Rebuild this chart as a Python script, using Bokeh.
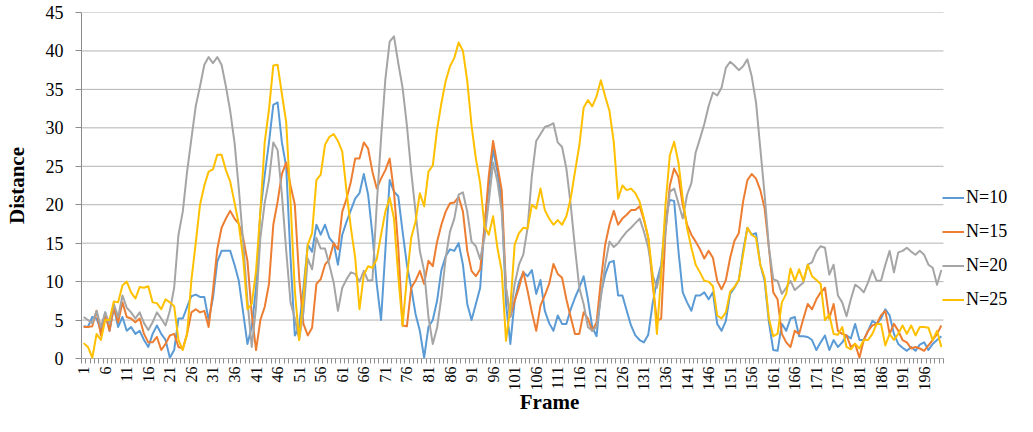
import math
from bokeh.plotting import figure
from bokeh.models import FixedTicker, Legend, LegendItem, Range1d
from bokeh.embed import file_html
from bokeh.resources import INLINE

frames = list(range(1, 201))

n10 = [4.2, 4.1, 5.4, 5.2, 3.6, 6.0, 3.6, 6.7, 4.1, 5.4,
       3.6, 4.1, 3.2, 3.6, 2.4, 1.5, 3.2, 4.3, 3.2, 2.4,
       0.1, 1.1, 5.2, 5.2, 6.7, 8.1, 8.3, 8.0, 8.0, 5.0,
       7.9, 12.6, 14.0, 14.0, 14.0, 12.2, 10.1, 6.0, 1.9, 4.1,
       9.2, 19.1, 23.8, 28.1, 33.0, 33.3, 28.1, 24.9, 13.1, 3.0,
       4.1, 9.2, 14.8, 13.9, 17.4, 16.1, 17.4, 15.7, 15.0, 12.2,
       16.1, 17.8, 19.3, 20.8, 21.5, 24.0, 21.3, 16.1, 9.7, 5.0,
       14.0, 23.2, 21.7, 21.1, 16.5, 12.2, 9.2, 5.8, 3.6, 0.1,
       4.1, 5.0, 7.5, 11.5, 13.3, 14.2, 14.0, 15.0, 12.2, 7.1,
       5.0, 7.1, 9.2, 17.4, 22.5, 27.2, 24.3, 20.4, 7.1, 1.9,
       7.5, 9.9, 11.2, 10.7, 11.5, 8.4, 10.2, 6.2, 4.6, 3.6,
       5.6, 4.5, 4.5, 6.4, 7.9, 9.2, 10.7, 7.7, 4.1, 2.9,
       8.4, 10.9, 12.5, 12.7, 8.2, 8.2, 6.2, 4.3, 3.0, 2.4,
       2.1, 3.1, 7.1, 10.1, 12.2, 18.2, 20.6, 20.5, 14.0, 8.6,
       7.3, 6.2, 8.2, 8.2, 8.6, 7.7, 8.6, 4.5, 3.6, 4.9,
       8.4, 9.2, 10.2, 14.0, 17.0, 16.1, 16.3, 12.2, 10.1, 4.7,
       1.1, 1.0, 4.5, 3.6, 5.2, 5.4, 2.9, 2.9, 2.8, 2.4,
       1.1, 2.1, 3.0, 1.1, 2.4, 1.5, 2.1, 3.0, 2.6, 4.5,
       2.4, 2.4, 3.6, 4.9, 4.5, 5.2, 6.4, 5.6, 3.2, 1.9,
       1.4, 1.0, 1.5, 1.0, 1.8, 2.1, 1.1, 1.9, 2.4, 2.9]

n15 = [4.1, 4.1, 4.2, 6.2, 3.0, 5.8, 3.6, 6.7, 4.7, 7.3,
       5.4, 5.2, 4.7, 5.2, 3.2, 2.1, 2.1, 2.8, 1.1, 1.9,
       3.0, 3.2, 1.5, 1.3, 3.2, 6.0, 6.4, 6.0, 6.2, 4.1,
       8.8, 14.2, 17.0, 18.2, 19.2, 18.2, 17.5, 15.7, 12.7, 5.8,
       1.1, 5.0, 6.7, 9.7, 17.4, 20.4, 24.0, 25.5, 22.5, 20.0,
       10.5, 4.5, 3.0, 4.0, 9.7, 10.3, 12.2, 12.9, 15.0, 14.2,
       19.1, 20.8, 23.0, 26.0, 26.0, 28.1, 27.3, 24.3, 22.1, 23.4,
       24.5, 26.0, 21.7, 14.4, 4.3, 4.2, 9.2, 10.1, 11.4, 9.7,
       12.7, 12.0, 15.2, 17.4, 19.1, 20.2, 20.3, 21.0, 19.1, 14.0,
       11.4, 10.7, 11.6, 17.0, 23.8, 28.3, 25.1, 21.9, 9.0, 5.4,
       7.5, 9.2, 11.3, 8.8, 6.0, 3.6, 6.9, 8.2, 9.7, 12.3,
       11.0, 10.5, 7.7, 5.4, 3.2, 3.2, 6.0, 5.2, 3.6, 4.7,
       10.1, 14.8, 17.4, 19.2, 17.4, 18.2, 18.7, 19.3, 19.3, 19.8,
       18.0, 15.7, 9.7, 4.9, 5.2, 16.5, 22.5, 24.7, 23.6, 20.0,
       17.4, 16.1, 15.2, 14.2, 13.0, 14.0, 13.1, 10.1, 9.0, 10.2,
       13.1, 15.3, 16.3, 20.4, 23.2, 24.0, 23.4, 21.9, 19.5, 14.4,
       8.6, 7.7, 3.2, 2.1, 1.5, 3.6, 3.2, 5.2, 7.1, 6.4,
       7.7, 8.6, 9.2, 5.2, 7.1, 3.6, 3.2, 3.0, 1.5, 1.9,
       0.1, 2.4, 3.6, 4.3, 4.5, 5.6, 6.2, 3.2, 4.5, 3.6,
       2.4, 2.1, 1.3, 1.5, 1.3, 1.0, 1.7, 2.4, 3.2, 4.3]

n20 = [5.4, 5.0, 4.6, 6.2, 4.1, 6.0, 4.5, 7.1, 5.4, 8.2,
       6.6, 6.0, 5.2, 6.0, 4.6, 3.7, 4.7, 6.0, 5.2, 4.3,
       6.2, 9.2, 16.1, 19.1, 24.3, 28.6, 32.8, 35.4, 38.2, 39.2,
       38.4, 39.2, 38.2, 35.4, 32.2, 28.1, 22.1, 15.2, 7.5, 1.5,
       6.7, 15.7, 20.2, 23.2, 28.1, 27.1, 21.3, 14.0, 7.3, 5.2,
       2.5, 6.0, 13.0, 11.6, 15.7, 14.3, 14.3, 12.2, 9.9, 6.2,
       9.2, 10.3, 11.2, 11.0, 10.0, 11.4, 10.1, 10.2, 20.0, 28.6,
       36.3, 41.2, 41.9, 38.4, 35.2, 30.3, 24.3, 19.1, 14.0, 11.4,
       5.4, 1.9, 4.0, 8.0, 13.1, 16.5, 18.2, 21.3, 21.6, 19.1,
       15.2, 14.6, 12.9, 15.7, 20.4, 25.5, 23.0, 19.1, 9.2, 5.4,
       9.7, 12.2, 13.5, 17.0, 23.8, 28.3, 29.2, 30.1, 30.3, 30.6,
       28.1, 27.5, 24.7, 20.0, 14.4, 9.2, 7.1, 4.1, 3.6, 4.1,
       7.9, 12.2, 15.2, 14.5, 15.0, 15.8, 16.5, 17.0, 17.6, 18.2,
       16.5, 14.4, 10.9, 9.2, 11.8, 16.5, 21.7, 22.1, 20.2, 18.2,
       21.3, 22.8, 26.8, 28.6, 30.5, 32.8, 34.6, 34.2, 35.2, 37.8,
       38.6, 38.1, 37.5, 38.0, 38.9, 36.7, 33.3, 27.3, 21.3, 14.4,
       10.3, 10.1, 8.4, 9.2, 10.1, 8.9, 9.4, 9.9, 12.2, 12.5,
       13.9, 14.6, 14.4, 10.9, 12.2, 8.2, 7.3, 5.5, 7.7, 9.6,
       9.2, 8.6, 9.9, 11.5, 10.1, 10.1, 12.2, 14.0, 11.2, 13.8,
       14.0, 14.4, 13.9, 13.5, 14.0, 13.5, 12.2, 11.8, 9.6, 11.5]

n25 = [2.0, 1.5, 0.1, 3.2, 2.4, 5.0, 5.0, 7.4, 7.3, 9.5,
       10.0, 8.6, 7.8, 9.3, 9.2, 9.4, 7.3, 7.2, 6.4, 7.7,
       7.3, 6.8, 2.4, 1.1, 3.2, 10.2, 15.0, 20.0, 22.5, 24.3,
       24.6, 26.5, 26.5, 24.5, 23.0, 20.3, 17.4, 13.1, 6.4, 7.1,
       11.4, 19.1, 28.1, 32.4, 38.1, 38.2, 34.4, 30.7, 20.4, 8.8,
       2.4, 8.0, 14.8, 16.3, 23.2, 23.9, 27.8, 28.8, 29.2, 28.3,
       26.9, 21.7, 17.0, 13.1, 6.4, 10.9, 12.0, 11.8, 12.9, 16.1,
       19.1, 20.9, 18.2, 10.7, 4.3, 10.5, 15.7, 17.8, 21.5, 19.8,
       24.3, 25.1, 29.8, 33.2, 36.1, 38.0, 39.1, 41.1, 40.0, 36.1,
       30.3, 26.0, 22.8, 17.2, 16.1, 18.5, 14.4, 11.4, 2.3, 6.7,
       14.8, 16.3, 17.0, 16.9, 20.0, 19.5, 22.1, 19.3, 18.2, 17.4,
       18.0, 17.4, 18.5, 20.8, 24.3, 27.7, 32.6, 33.6, 32.8, 34.1,
       36.2, 34.1, 32.2, 28.1, 20.8, 22.5, 21.9, 22.1, 21.5, 20.4,
       18.2, 15.7, 10.9, 3.2, 10.9, 20.0, 26.4, 28.2, 25.5, 20.8,
       17.0, 14.4, 12.2, 11.2, 10.1, 10.0, 9.4, 5.6, 5.2, 6.0,
       8.7, 9.3, 10.2, 13.5, 17.0, 16.1, 15.7, 12.2, 10.5, 5.2,
       2.9, 3.2, 7.3, 8.4, 11.7, 10.1, 11.6, 10.1, 12.2, 10.7,
       10.2, 9.7, 5.0, 5.7, 3.2, 3.1, 4.1, 1.5, 1.2, 1.9,
       1.3, 2.4, 2.4, 3.2, 4.5, 4.5, 1.7, 3.2, 2.4, 3.2,
       4.3, 3.2, 4.3, 3.0, 4.1, 4.1, 4.0, 2.4, 3.6, 1.5]

series_names = ["N=10", "N=15", "N=20", "N=25"]
series_colors = ["#5B9BD5", "#ED7D31", "#A5A5A5", "#FFC000"]
x_tick_frames = list(range(1, 200, 5))
y_ticks = list(range(0, 46, 5))

FONT = "Liberation Serif"
AXIS_COLOR = "#8C8C8C"
GRID_COLOR = "#B3B3B3"

W, H = 1017, 416
LEFT, TOP = 81, 12
PX_PER_FRAME = 4.31

x_lo = frames[0] - 0.5
x_hi = frames[-1] + 0.5
# the frame continues to the right edge so that the legend can sit beside the data
x_view_hi = x_lo + (W - LEFT) / PX_PER_FRAME

p = figure(width=W, height=H, output_backend="svg", toolbar_location=None,
           x_range=Range1d(x_lo, x_view_hi), y_range=Range1d(0, 45),
           min_border_left=LEFT, min_border_right=0, min_border_top=TOP,
           min_border_bottom=54)
p.outline_line_color = None
p.background_fill_color = "white"
p.border_fill_color = "white"

# horizontal gridlines only across the data area
p.segment(x0=[x_lo] * len(y_ticks), y0=y_ticks, x1=[x_hi] * len(y_ticks), y1=y_ticks,
          line_color=GRID_COLOR, line_width=1)
# x axis baseline across the data area
p.segment(x0=[x_lo], y0=[0], x1=[x_hi], y1=[0], line_color=AXIS_COLOR, line_width=1)

renderers = []
for ys, col in zip([n10, n15, n20, n25], series_colors):
    r = p.line(frames, ys, line_color=col, line_width=2, line_join="round")
    renderers.append(r)

# x axis
xax = p.xaxis[0]
xax.ticker = FixedTicker(ticks=x_tick_frames,
                         minor_ticks=[f - 0.5 for f in frames] + [x_hi])
xax.major_label_orientation = math.pi / 2
xax.major_tick_line_color = None
xax.major_tick_out = 5
xax.major_tick_in = 0
xax.minor_tick_out = 5
xax.minor_tick_in = 0
xax.minor_tick_line_color = AXIS_COLOR
xax.axis_line_color = None
xax.major_label_standoff = 3
xax.major_label_text_font = FONT
xax.major_label_text_font_size = "16px"
xax.major_label_text_color = "#000000"
xax.axis_label = "Frame"
xax.axis_label_text_font = FONT
xax.axis_label_text_font_style = "bold"
xax.axis_label_text_font_size = "21px"
xax.axis_label_text_color = "#000000"
xax.axis_label_text_line_height = 1.0
xax.axis_label_standoff = -4

# y axis
yax = p.yaxis[0]
yax.ticker = FixedTicker(ticks=y_ticks)
yax.major_tick_out = 6
yax.major_tick_in = 0
yax.major_tick_line_color = AXIS_COLOR
yax.minor_tick_line_color = None
yax.axis_line_color = AXIS_COLOR
yax.major_label_standoff = 12
yax.major_label_text_font = FONT
yax.major_label_text_font_size = "18px"
yax.major_label_text_color = "#000000"
yax.axis_label = "Distance"
yax.axis_label_text_font = FONT
yax.axis_label_text_font_style = "bold"
yax.axis_label_text_font_size = "21px"
yax.axis_label_text_color = "#000000"
yax.axis_label_text_line_height = 1.0
yax.axis_label_standoff = 14

p.xgrid.grid_line_color = None
p.ygrid.grid_line_color = None

legend = Legend(items=[LegendItem(label=n, renderers=[r]) for n, r in zip(series_names, renderers)],
                location=(861, 48), orientation="vertical",
                background_fill_alpha=0, border_line_color=None,
                padding=0, margin=0, glyph_width=22, glyph_height=21,
                label_height=21, spacing=13, label_standoff=2,
                label_text_font=FONT, label_text_font_size="18px",
                label_text_color="#000000")
p.add_layout(legend)

open("out.html", "w").write(file_html(p, INLINE))
